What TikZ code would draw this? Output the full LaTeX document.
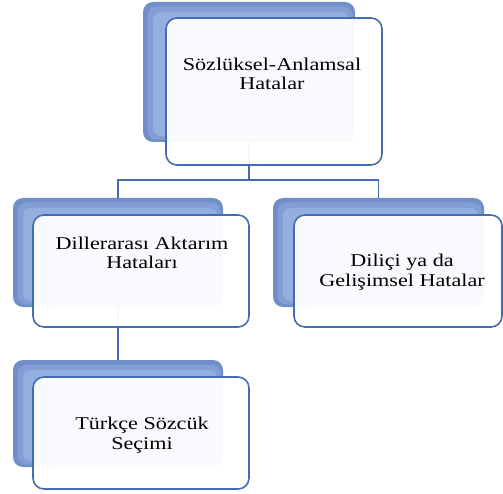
\documentclass[tikz,border=0pt]{standalone}
\usepackage{fontspec}
\setmainfont{Liberation Serif}[FakeStretch=1.23]
\begin{document}
\begin{tikzpicture}[x=1pt,y=-1pt,
  backbox/.style={rounded corners=10pt,inner sep=0pt,fill=backblue},
  backmid/.style={rounded corners=9pt,inner sep=0pt,fill=backmidc},
  backinner/.style={rounded corners=8pt,inner sep=0pt,fill=backlight},
  frontbox/.style={rounded corners=11pt,inner sep=0pt,draw=frontedge,line width=1.6pt,fill=white,fill opacity=0.95},
  label/.style={align=center,font=\fontsize{18}{19.5}\selectfont,text=black,inner sep=0pt},
  conn/.style={draw=frontedge,line width=1.4pt}]
\definecolor{backblue}{RGB}{112,142,200}
\definecolor{backmidc}{RGB}{130,158,212}
\definecolor{backlight}{RGB}{148,174,223}
\definecolor{frontedge}{RGB}{68,108,178}
\useasboundingbox (0,0) rectangle (503,494);
% back boxes
\node[backbox,minimum width=212pt,minimum height=140pt] (b1) at (249,72) {};
\node[backbox,minimum width=210pt,minimum height=109pt] (b2) at (118,252.5) {};
\node[backbox,minimum width=211pt,minimum height=109pt] (b3) at (378.5,252.5) {};
\node[backbox,minimum width=210pt,minimum height=107pt] (b4) at (118,413.5) {};
\node[backmid,minimum width=205pt,minimum height=133pt] (m1) at (250,73) {};
\node[backmid,minimum width=203pt,minimum height=102pt] (m2) at (119,253.5) {};
\node[backmid,minimum width=204pt,minimum height=102pt] (m3) at (379.5,253.5) {};
\node[backmid,minimum width=203pt,minimum height=100pt] (m4) at (119,414.5) {};
\node[backinner,minimum width=196pt,minimum height=124pt] (i1) at (251,74) {};
\node[backinner,minimum width=194pt,minimum height=93pt] (i2) at (120,254.5) {};
\node[backinner,minimum width=195pt,minimum height=93pt] (i3) at (380.5,254.5) {};
\node[backinner,minimum width=194pt,minimum height=91pt] (i4) at (120,415.5) {};
% connectors
\coordinate (j) at (249,180);
\draw[conn] (b1.south) -- (j);
\draw[conn] (b2.north) |- (j) -| (b3.north);
\draw[conn] (b2.south) -- (b4.north);
% front boxes
\node[frontbox,minimum width=216pt,minimum height=147pt] (f1) at (274,91.5) {};
\node[frontbox,minimum width=216pt,minimum height=112pt] (f2) at (141,271) {};
\node[frontbox,minimum width=208pt,minimum height=112pt] (f3) at (398,271) {};
\node[frontbox,minimum width=216pt,minimum height=112pt] (f4) at (141,433) {};
% texts
\node[label] (t1) at (272,74) {Sözlüksel-Anlamsal\\Hatalar};
\node[label] (t2) at (142,253) {Dillerarası Aktarım\\Hataları};
\node[label] (t3) at (402,272) {Diliçi ya da\\Gelişimsel Hatalar};
\node[label] (t4) at (142,435) {Türkçe Sözcük\\Seçimi};
\end{tikzpicture}
\end{document}
